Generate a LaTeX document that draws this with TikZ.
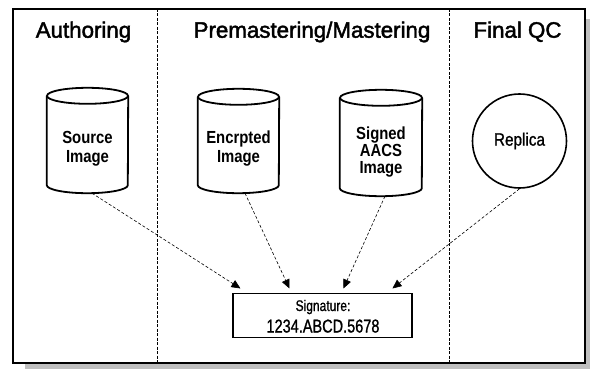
\documentclass[tikz,border=0pt]{standalone}
\usepackage{fontspec}
\setmainfont{Liberation Sans}
\newfontfamily\titlefont[FakeBold=2]{Liberation Sans}
\newfontfamily\narrowA[FakeStretch=0.85]{Liberation Sans}
\newfontfamily\narrowR[FakeStretch=0.85,FakeBold=1]{Liberation Sans}
\newfontfamily\narrowB[FakeStretch=0.78,FakeBold=1]{Liberation Sans}
\usetikzlibrary{arrows.meta,calc}
\newcommand\drawcyl[3]{% name, x radius, y radius
  \draw[cylline] ([yshift=-#3]#1.north west) -- ([yshift=#3]#1.south west)
    arc[start angle=180,end angle=360,x radius=#2,y radius=#3]
    -- ([yshift=-#3]#1.north east);
  \draw[cylline] ([yshift=-#3]#1.north) ellipse[x radius=#2,y radius=#3];
}
\begin{document}
\begin{tikzpicture}[x=1pt,y=-1pt,
  title/.style={font=\titlefont\fontsize{22.3}{26}\selectfont, anchor=base, inner sep=0pt},
  cylbody/.style={inner sep=0pt, minimum width=#1},
  cylline/.style={line width=1.8pt},
  cyltext/.style={font=\narrowA\bfseries\fontsize{17.5}{18.7}\selectfont, align=center, inner sep=0pt},
  cyltextB/.style={font=\narrowA\bfseries\fontsize{17.5}{17}\selectfont, align=center, inner sep=0pt},
  conn/.style={dash pattern=on 3pt off 2pt, line width=0.6pt, -{Triangle[length=9pt,width=8pt]}},
  divider/.style={dash pattern=on 3pt off 1.5pt, line width=0.8pt},
  sigsmall/.style={font=\narrowB\fontsize{15.4}{18}\selectfont, anchor=base, inner sep=0pt},
  signum/.style={font=\narrowB\fontsize{18.6}{22}\selectfont, anchor=base, inner sep=0pt}
]
\useasboundingbox (0,0) rectangle (590,369);
% shadow and frame
\fill[black!25] (25,19) rectangle (590,369);
\filldraw[fill=white, draw=black, line width=1.1pt] (13,9) rectangle (585,363);
% dividers
\draw[divider] (157.3,9) -- (157.3,363);
\draw[divider] (449.3,9) -- (449.3,363);
% titles
\node[title] (tA) at (83.5,37.7) {Authoring};
\node[title] (tB) at (312,37.7) {Premastering/Mastering};
\node[title] (tC) at (517.5,37.7) {Final QC};
% cylinders
\node[cylbody=81pt, minimum height=105pt] (src) at (87.5,140.5) {};
\drawcyl{src}{40.5pt}{8pt}
\node[cyltext] (srct) at (87.5,148.8) {Source\\Image};
\node[cylbody=81pt, minimum height=104pt] (enc) at (238.5,141) {};
\drawcyl{enc}{40.5pt}{8pt}
\node[cyltext] (enct) at (238.5,148.8) {Encrpted\\Image};
\node[cylbody=82pt, minimum height=106pt] (sgn) at (381,143) {};
\drawcyl{sgn}{41pt}{8pt}
\node[cyltextB] (sgnt) at (381,152.5) {Signed\\AACS\\Image};
% replica
\node[circle, draw, line width=1.6pt, minimum size=94pt, inner sep=0pt,
      font=\narrowR\fontsize{18}{20}\selectfont] (rep) at (519.5,141) {Replica};
% signature box
\node[draw, line width=1.1pt, minimum width=179pt, minimum height=44.4pt, inner sep=0pt] (sig) at (322.5,315.5) {};
\node[sigsmall] (sigA) at (323,311) {Signature:};
\node[signum] (sigB) at (323,332.5) {1234.ABCD.5678};
% connectors
\draw[conn] ([xshift=4.5pt]src.south) -- ([xshift=8pt,yshift=4.3pt]sig.north west);
\draw[conn] ([xshift=6.5pt]enc.south) -- ([xshift=57pt,yshift=4.3pt]sig.north west);
\draw[conn] ([xshift=4pt]sgn.south) -- ([xshift=111pt,yshift=4.3pt]sig.north west);
\draw[conn] (rep.south) -- ([xshift=160pt,yshift=4.3pt]sig.north west);
\end{tikzpicture}
\end{document}
